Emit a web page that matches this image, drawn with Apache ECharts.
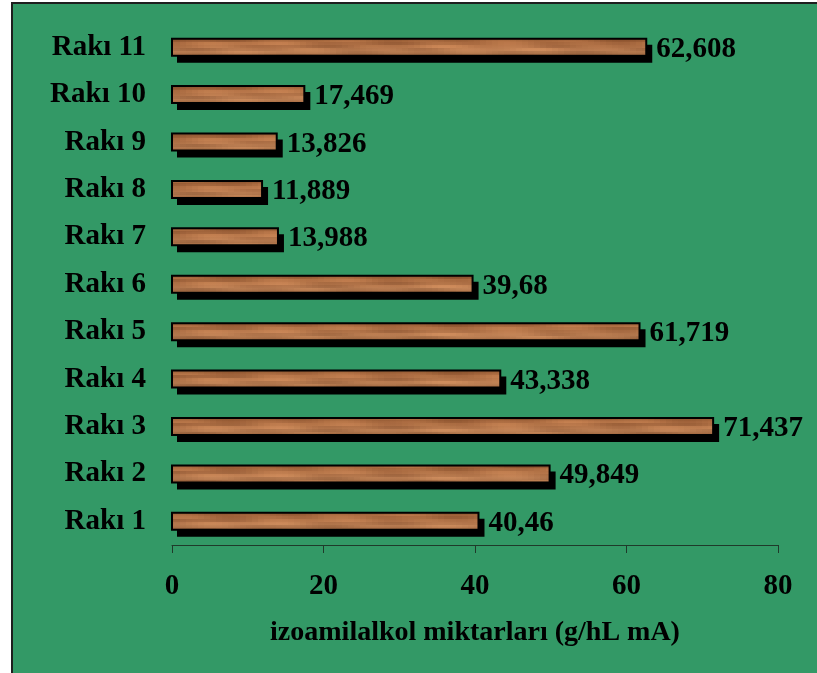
<!DOCTYPE html>
<html>
<head>
<meta charset="utf-8">
<script src="https://cdn.jsdelivr.net/npm/echarts@6/dist/echarts.min.js"></script>
<style>
html,body{margin:0;padding:0;background:#ffffff;}
#chart{width:817px;height:673px;}
</style>
</head>
<body>
<div id="chart"></div>
<script>
var categories = ['Rakı 1','Rakı 2','Rakı 3','Rakı 4','Rakı 5','Rakı 6','Rakı 7','Rakı 8','Rakı 9','Rakı 10','Rakı 11'];
var values = [40.46, 49.849, 71.437, 43.338, 61.719, 39.68, 13.988, 11.889, 13.826, 17.469, 62.608];
var valueLabels = ['40,46','49,849','71,437','43,338','61,719','39,68','13,988','11,889','13,826','17,469','62,608'];
var xTicks = [0, 20, 40, 60, 80];
var axisTitle = 'izoamilalkol miktarları (g/hL mA)';

// wood-grain pattern (deterministic)
function woodPattern(){
  var c = document.createElement('canvas');
  c.width = 820; c.height = 24;
  var ctx = c.getContext('2d');
  for (var y = 0; y < c.height; y += 3) {
    for (var x = 0; x < c.width; x += 6) {
      var v = Math.sin(x * 0.027 + y * 0.4) * 0.45 + Math.sin(x * 0.083 + 1.3 - y * 0.23) * 0.35 + Math.cos(x * 0.013 + y * 0.9) * 0.3;
      var r = Math.round(178 + v * 24), g = Math.round(113 + v * 19), b = Math.round(69 + v * 14);
      ctx.fillStyle = 'rgb(' + r + ',' + g + ',' + b + ')';
      ctx.fillRect(x, y, 6, 3);
    }
  }
  return c;
}
var wood = woodPattern();
var edgeShade = {
  type: 'linear', x: 0, y: 0, x2: 0, y2: 1,
  colorStops: [
    {offset: 0, color: 'rgba(90,45,15,0.45)'},
    {offset: 0.25, color: 'rgba(90,45,15,0.05)'},
    {offset: 0.6, color: 'rgba(255,220,180,0.08)'},
    {offset: 1, color: 'rgba(90,45,15,0.4)'}
  ]
};

var chart = echarts.init(document.getElementById('chart'), null, {renderer: 'canvas'});
var serif = '"Liberation Serif","Times New Roman",serif';
var seriesData = values.map(function(v, i){ return [v, i]; });

chart.setOption({
  backgroundColor: 'transparent',
  animation: false,
  graphic: [{
    type: 'rect', z: -10, silent: true,
    shape: {x: 12, y: 3, width: 900, height: 800},
    style: {fill: '#339966', stroke: '#1e1e1e', lineWidth: 2}
  }],
  grid: {left: 172, right: 39, top: 23.5, bottom: 128, containLabel: false},
  xAxis: {
    type: 'value', min: 0, max: 80, interval: 20,
    axisLine: {show: true, lineStyle: {color: '#1f3a2a', width: 1}},
    axisTick: {show: true, inside: false, length: 8, lineStyle: {color: '#1f3a2a'}},
    splitLine: {show: false},
    axisLabel: {
      margin: 27, color: '#000', fontFamily: serif, fontWeight: 'bold', fontSize: 29,
      formatter: function(v){ return xTicks.indexOf(v) >= 0 ? String(v) : ''; }
    },
    name: axisTitle, nameLocation: 'middle', nameGap: 74,
    nameTextStyle: {color: '#000', fontFamily: serif, fontWeight: 'bold', fontSize: 28}
  },
  yAxis: {
    type: 'category', data: categories,
    axisLine: {show: false}, axisTick: {show: false},
    axisLabel: {margin: 26, color: '#000', fontFamily: serif, fontWeight: 'bold', fontSize: 29}
  },
  series: [{
    type: 'custom',
    data: seriesData,
    encode: {x: 0, y: 1},
    renderItem: function(params, api){
      var idx = params.dataIndex;
      var end = api.coord([api.value(0), api.value(1)]);
      var start = api.coord([0, api.value(1)]);
      var h = 17;
      var x0 = start[0], y0 = end[1] - h / 2, w = end[0] - start[0];
      return {
        type: 'group',
        children: [
          {type: 'rect', shape: {x: x0 + 5, y: y0 + 6, width: w + 1, height: h + 1}, style: {fill: '#000'}},
          {type: 'rect', shape: {x: x0, y: y0, width: w, height: h},
           style: {fill: {image: wood, repeat: 'repeat'}}},
          {type: 'rect', shape: {x: x0, y: y0, width: w, height: h},
           style: {fill: edgeShade, stroke: '#000', lineWidth: 2}},
          {type: 'text', x: end[0] + 10, y: end[1] + 2,
           style: {text: valueLabels[idx], fill: '#000', font: 'bold 29px ' + serif,
                   textAlign: 'left', textVerticalAlign: 'middle'}}
        ]
      };
    }
  }]
});
</script>
</body>
</html>
